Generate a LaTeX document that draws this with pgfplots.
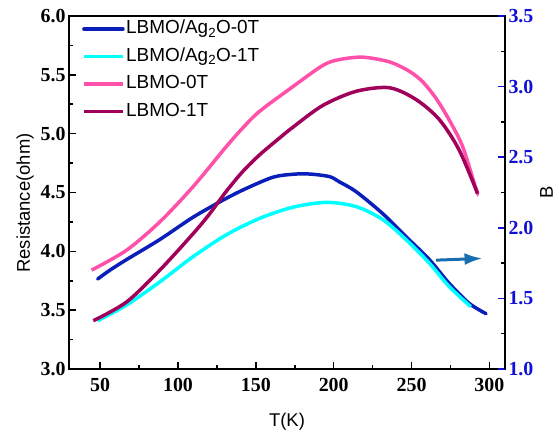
\documentclass[border=0pt]{standalone}
\usepackage{pgfplots}
\pgfplotsset{compat=1.18}
\usepackage{fontspec}
\setmainfont{Liberation Sans}
\newfontfamily\tickfont{Liberation Serif}
\usetikzlibrary{arrows.meta}
\definecolor{cA}{RGB}{10,30,185}
\definecolor{cB}{RGB}{0,255,255}
\definecolor{cC}{RGB}{255,80,170}
\definecolor{cD}{RGB}{160,0,90}
\definecolor{cArrow}{RGB}{25,110,175}
\definecolor{tickblue}{RGB}{16,16,215}
\begin{document}
\begin{tikzpicture}
\useasboundingbox (-69bp,-65bp) rectangle (490bp,369bp);
\begin{axis}[
  at={(0,0)}, anchor=south west,
  scale only axis, width=436bp, height=353bp,
  xmin=30, xmax=310, ymin=3, ymax=6,
  xtick={50,100,...,300}, minor x tick num=1,
  ytick={3,3.5,...,6}, minor y tick num=1,
  tick pos=left, tick align=inside,
  major tick length=7bp, minor tick length=4bp,
  axis line style={line width=2bp},
  every tick/.style={line width=1.5bp, black},
  /pgf/number format/assume math mode=true,
  ticklabel style={font=\fontsize{20}{22}\tickfont\bfseries},
  yticklabel style={/pgf/number format/.cd, fixed, fixed zerofill, precision=1},
  xticklabel style={yshift=-6bp, /pgf/number format/.cd, fixed, precision=0},
  xlabel={T(K)}, ylabel={Resistance(ohm)},
  label style={font=\fontsize{18.5}{20}\selectfont},
  xlabel style={yshift=-14bp},
  ylabel style={at={(ticklabel cs:0.47)}, xshift=0bp},
  legend style={draw=none, fill=none, at={(rel axis cs:0,1)}, anchor=north west,
    xshift=13bp, yshift=-3bp,
    font=\fontsize{19}{20}\selectfont, row sep=7.5bp, inner sep=0bp,
    nodes={text height=13bp, text depth=4bp, inner sep=1.5bp}},
  legend cell align=left,
  legend image code/.code={\draw[#1, line width=3.5bp] (0bp,0bp) -- (39bp,0bp);},
]
\addplot[cA, line width=3.5bp, smooth, line cap=round] coordinates {
(48.4,3.765) (56.3,3.84) (67,3.93) (88.3,4.10) (109.7,4.29) (131,4.45)
(143.9,4.535) (161,4.63) (173.8,4.655) (184.5,4.657) (197.3,4.635) (203.7,4.59) (214.4,4.507)
(231.5,4.32) (246.4,4.125) (261.4,3.93) (274.2,3.727) (287,3.558) (297.8,3.47)};
\addlegendentry{LBMO/Ag\textsubscript{2}O-0T}
\addplot[cB, line width=3.5bp, smooth] coordinates {
(48.4,3.41) (67,3.544) (88.3,3.74) (109.7,3.955) (131,4.14) (152.4,4.28) (173.8,4.375)
(195.2,4.416) (214.4,4.38) (231.5,4.27) (246.4,4.10) (261.4,3.90) (274.2,3.70) (288,3.53)};
\addlegendentry{LBMO/Ag\textsubscript{2}O-1T}
\addplot[cC, line width=3.5bp, smooth] coordinates {
(44.5,3.84) (67,4.01) (88.3,4.25) (109.7,4.55) (131,4.89) (141.7,5.05) (152.4,5.19)
(173.8,5.40) (193,5.58) (203.7,5.63) (218.7,5.65) (235.8,5.61) (248.6,5.53)
(257.2,5.44) (265.7,5.30) (274.2,5.116) (282.8,4.89) (291.3,4.535) (292.5,4.50)};
\addlegendentry{LBMO-0T}
\addplot[cD, line width=3.5bp, smooth] coordinates {
(45.6,3.41) (67,3.57) (88.3,3.84) (109.7,4.15) (120.4,4.32) (131,4.51) (141.7,4.68)
(152.4,4.82) (163.1,4.94) (173.8,5.055) (193,5.24) (214.4,5.36) (235.8,5.39)
(252.9,5.29) (267.8,5.12) (280.6,4.86) (292.4,4.49)};
\addlegendentry{LBMO-1T}
\draw[-{Latex[length=18bp,width=12bp]}, cArrow, line width=3bp]
  (axis cs:265.7,3.925) -- (axis cs:295.6,3.94);
\end{axis}
\begin{axis}[
  at={(0,0)}, anchor=south west,
  scale only axis, width=436bp, height=353bp,
  xmin=30, xmax=310, ymin=1, ymax=3.5,
  axis y line*=right, axis x line=none,
  ytick={1,1.5,...,3.5}, minor y tick num=1,
  tick align=inside,
  major tick length=7bp, minor tick length=4bp,
  axis line style={line width=2bp},
  major tick style={line width=1.5bp, tickblue},
  minor tick style={line width=1.5bp, black},
  /pgf/number format/assume math mode=true,
  yticklabel style={font=\fontsize{20}{22}\tickfont\bfseries, text=tickblue,
    /pgf/number format/.cd, fixed, fixed zerofill, precision=1},
  ylabel={B},
  label style={font=\fontsize{18.5}{20}\selectfont},
]
\end{axis}
\end{tikzpicture}
\end{document}
